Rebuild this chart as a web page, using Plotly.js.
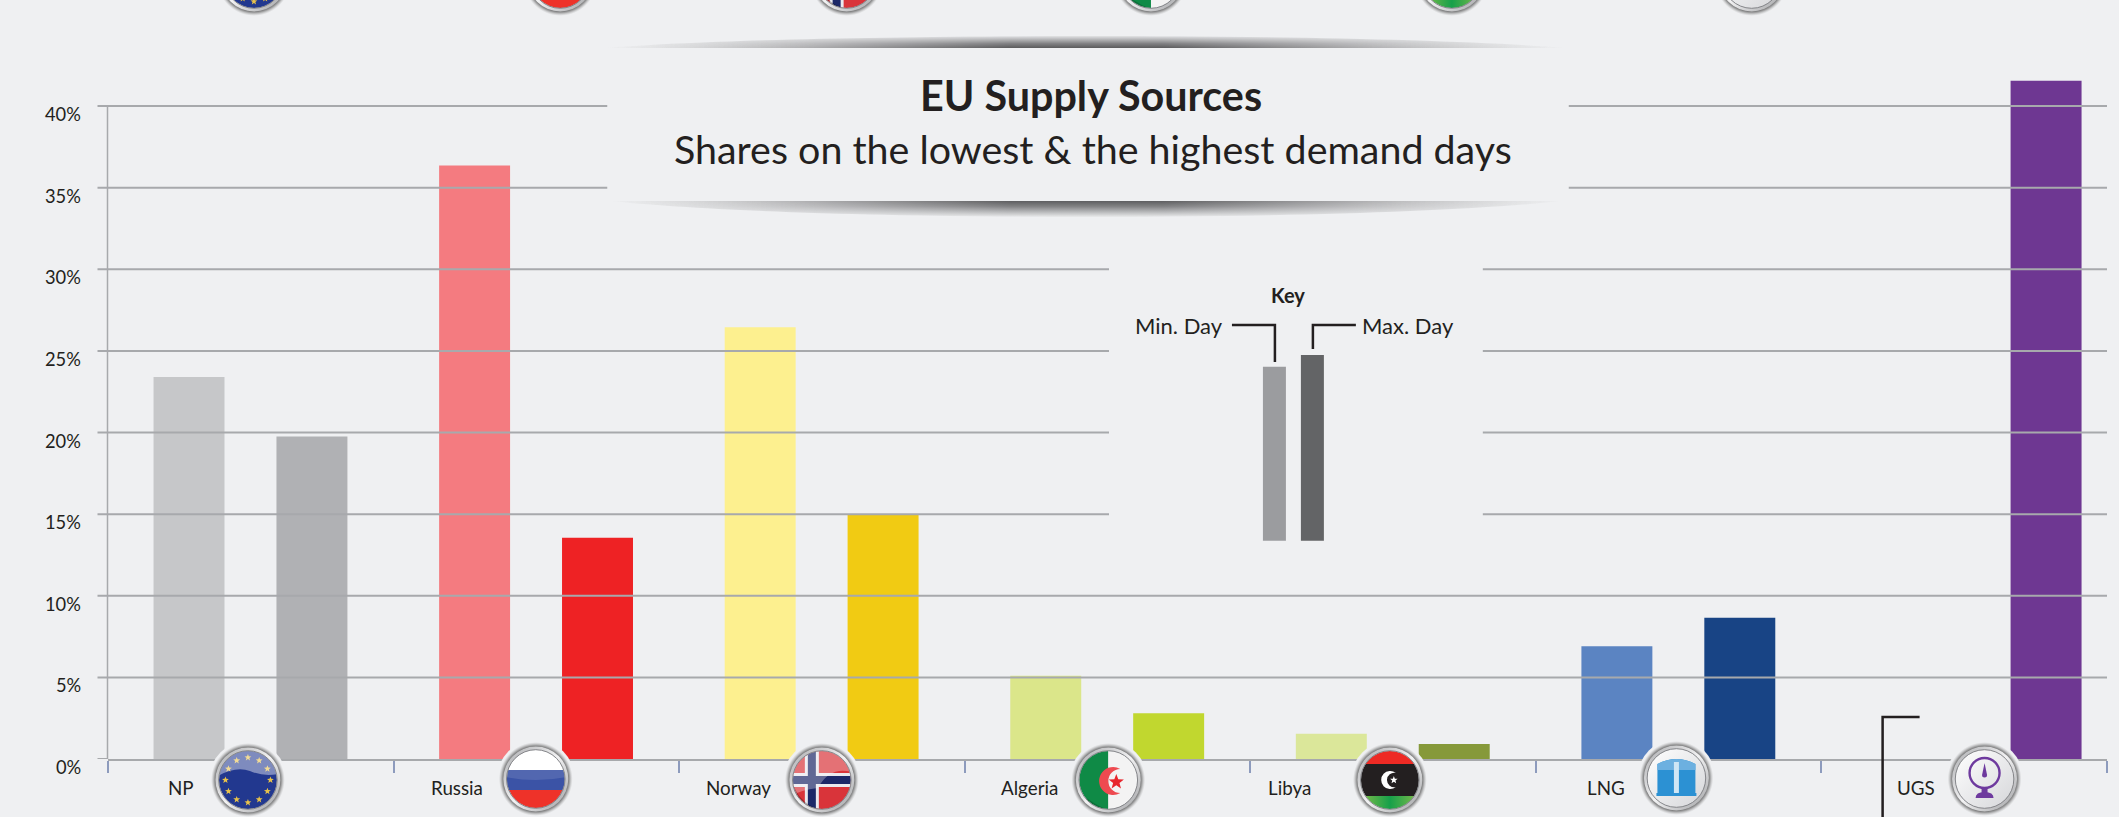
<!DOCTYPE html>
<html><head><meta charset="utf-8">
<script src="https://cdn.plot.ly/plotly-3.0.1.min.js"></script>
<style>html,body{margin:0;padding:0;background:#eff0f2;overflow:hidden}#c{width:2119px;height:817px}</style>
</head><body><div id="c"></div>
<script>
const categories = ['NP','Russia','Norway','Algeria','Libya','LNG','UGS'];
const minDay = [23.4,36.35,26.45,5.1,1.55,6.9,0];
const maxDay = [19.75,13.55,14.95,2.8,0.92,8.66,41.55];
const minColors = ['#c6c7c9','#f47b80','#fdf08f','#dbe68a','#dbe79a','#5b84c2','#c9b6d6'];
const maxColors = ['#b0b1b4','#ee2224','#f1cb13','#c1d72f','#86993a','#184485','#6e3792'];
const minOffset = [-0.3405,-0.3405,-0.3405,-0.3405,-0.3405,-0.3405,-0.3405];
const maxOffset = [0.0899,0.0899,0.0899,0.0899,0.0899,0.0899,0.1624];
const barWidth = 0.2485;
const yTicks = [0,5,10,15,20,25,30,35,40];
const labelRight = [194,483,771,1058,1311,1625,1935];
const iconX = [247.5,535.5,821.7,1108.3,1390,1676.7,1985];
const iconY = [780,779,780,780,780,778,779];
const topIconX = [253.5,560,846.5,1151,1452,1752];

const W=2119,H=817,L=107.5,R=2107.5,T=70,B=759;
const ymax=(B-T)/16.325;
const PX=x=>(x-L)/(R-L), PY=y=>(B-y)/(B-T);
const INK='#231f20', GRID='#a7a9ac', BG='#eff0f2';
const FONT='Lato, "Open Sans", sans-serif';

function starPts(cx,cy,r){let s=[];for(let i=0;i<10;i++){const a=-Math.PI/2+i*Math.PI/5,q=i%2?r*0.42:r;s.push((cx+q*Math.cos(a)).toFixed(2)+','+(cy+q*Math.sin(a)).toFixed(2));}return s.join(' ');}
const flags={
 NP:()=>{let s='<rect x="-30" y="-30" width="60" height="60" fill="#22388f"/>';for(let i=0;i<12;i++){const a=i*Math.PI/6;s+=`<polygon points="${starPts(22.5*Math.sin(a),-22.5*Math.cos(a),3.6)}" fill="#e8c24a"/>`;}
   s+='<path d="M-30 -4 Q-12 -14 2 -9 Q16 -3 30 -6 L30 -30 L-30 -30Z" fill="#fff" opacity=".42"/>';return s;},
 Russia:()=>'<rect x="-30" y="-30" width="60" height="21" fill="#fff"/><rect x="-30" y="-9" width="60" height="20" fill="#3b53a6"/><rect x="-30" y="11" width="60" height="20" fill="#ee3229"/><path d="M-30 -30H30V-2Q0 4 -30 -2Z" fill="#fff" opacity=".12"/>',
 Norway:()=>'<rect x="-30" y="-30" width="60" height="60" fill="#d9343a"/><rect x="-17" y="-30" width="14" height="60" fill="#e9e9ee"/><rect x="-30" y="-7" width="60" height="14" fill="#e9e9ee"/><rect x="-14" y="-30" width="8" height="60" fill="#1c2868"/><rect x="-30" y="-4" width="60" height="8" fill="#1c2868"/><path d="M-30 -30H30V-8Q8 -14 -4 8Q-22 10 -30 16Z" fill="#fff" opacity=".3"/><path d="M-30 0 Q-24 24 0 30 L-30 30Z" fill="#000" opacity=".25"/>',
 Algeria:()=>`<rect x="-30" y="-30" width="30" height="60" fill="#0f8a46"/><rect x="0" y="-30" width="30" height="60" fill="#f3f3f3"/><path d="M12 -11A14 14 0 1 0 12 13A11 11 0 1 1 12 -11Z" fill="#ee4a50"/><polygon points="${starPts(8,2,8)}" fill="#e8262d"/><path d="M-30 12Q-12 26 0 30L-30 30Z" fill="#000" opacity=".18"/>`,
 Libya:()=>`<rect x="-30" y="-30" width="60" height="14" fill="#ee2a24"/><rect x="-30" y="-16" width="60" height="32" fill="#231f20"/><rect x="-30" y="16" width="60" height="14" fill="url(#g)"/><path d="M6 -7A9 9 0 1 0 6 7A7.2 7.2 0 1 1 6 -7Z" fill="#fff"/><polygon points="${starPts(4,0,4)}" fill="#fff"/>`,
 LNG:()=>'<circle r="30" fill="url(#w)"/><path d="M-19 15V-14Q0 -24 19 -14V15Z" fill="#2c91d3"/><path d="M-19 -14Q0 -24 19 -14V-8H-19Z" fill="#6cb0e0"/><rect x="-2.5" y="-16" width="5" height="31" fill="#cfe6f5"/><rect x="-20" y="15" width="40" height="3" fill="#2c91d3"/>',
 UGS:()=>'<circle r="30" fill="url(#w)"/><circle cy="-6" r="15" fill="none" stroke="#6e3a9e" stroke-width="2.4"/><path d="M0 -16L2.5 -4A2.5 2.5 0 0 1 -2.5 -4Z" fill="#6e3a9e"/><path d="M-3 9H3V14H-3Z" fill="#6e3a9e"/><path d="M-9 19Q-9 13 0 13Q9 13 9 19Z" fill="#6e3a9e"/>'
};
function icon(name){
 const svg=`<svg xmlns="http://www.w3.org/2000/svg" width="84" height="84" viewBox="-42 -42 84 84"><defs>
<radialGradient id="h"><stop offset=".84" stop-color="#333" stop-opacity=".9"/><stop offset=".92" stop-color="#666" stop-opacity=".5"/><stop offset="1" stop-color="#aaa" stop-opacity="0"/></radialGradient>
<linearGradient id="r" x1="0" y1="0" x2="1" y2="1"><stop offset="0" stop-color="#a8a9ac"/><stop offset=".5" stop-color="#f2f2f3"/><stop offset="1" stop-color="#9d9ea1"/></linearGradient>
<linearGradient id="w" x1="0" y1="0" x2="1" y2="1"><stop offset="0" stop-color="#fff"/><stop offset="1" stop-color="#d5d6d9"/></linearGradient>
<linearGradient id="g"><stop offset="0" stop-color="#86bd4a"/><stop offset=".5" stop-color="#16a04a"/><stop offset="1" stop-color="#86bd4a"/></linearGradient>
<clipPath id="k"><circle r="29"/></clipPath></defs>
<circle r="39" fill="${BG}"/><circle r="37" fill="url(#h)"/><circle r="32.5" fill="url(#r)"/>
<g clip-path="url(#k)">${flags[name]()}</g><circle r="29.3" fill="none" stroke="#85868a" stroke-width="1"/></svg>`;
 return 'data:image/svg+xml;charset=utf-8,'+encodeURIComponent(svg);
}
function lens(top){
 const path=top?'M0 13C200 -3 760 -3 960 13Z':'M0 0C200 22 760 22 960 0Z';
 const svg=`<svg xmlns="http://www.w3.org/2000/svg" width="960" height="${top?13:17}" viewBox="0 0 960 ${top?13:17}"><defs>
<linearGradient id="a"><stop offset="0" stop-color="#bbb" stop-opacity="0"/><stop offset=".22" stop-color="#a9a9ab"/><stop offset=".42" stop-color="#5a5a5c"/><stop offset=".58" stop-color="#5a5a5c"/><stop offset=".78" stop-color="#a9a9ab"/><stop offset="1" stop-color="#bbb" stop-opacity="0"/></linearGradient>
<linearGradient id="v" x1="0" y1="${top?1:0}" x2="0" y2="${top?0:1}"><stop offset="0" stop-color="#fff"/><stop offset=".35" stop-color="#bbb"/><stop offset="1" stop-color="#000"/></linearGradient>
<mask id="m" maskUnits="userSpaceOnUse" x="0" y="0" width="960" height="17"><rect width="960" height="${top?13:17}" fill="url(#v)"/></mask></defs>
<path d="${path}" fill="url(#a)" mask="url(#m)"/></svg>`;
 return 'data:image/svg+xml;charset=utf-8,'+encodeURIComponent(svg);
}
function img(src,x,y,w,h){return {source:src,xref:'paper',yref:'paper',x:PX(x),y:PY(y),sizex:w/(R-L),sizey:h/(B-T),xanchor:'left',yanchor:'top',sizing:'stretch',layer:'above'};}
const images=[img(lens(true),606,35,960,13),img(lens(false),606,200.5,960,17)];
categories.forEach((c,i)=>images.push(img(icon(c),iconX[i]-42,iconY[i]-42,84,84)));
topIconX.forEach((x,i)=>images.push(img(icon(categories[i]),x-42,-63,84,84)));

const shapes=[];
const seg=(x0,x1,v)=>shapes.push({type:'line',layer:'above',xref:'paper',yref:'y',x0:PX(x0),x1:PX(x1),y0:v,y1:v,line:{color:GRID,width:2}});
yTicks.forEach(v=>{
  if(v===0){seg(97,107.5,0);return;}
  if(v>=35){seg(97,607,v);seg(1569,2107.5,v);}
  else if(v>=15){seg(97,1109,v);seg(1483,2107.5,v);}
  else seg(97,2107.5,v);
});
const pxLine=(pts,w,c)=>shapes.push({type:'path',layer:'above',xref:'paper',yref:'paper',path:'M'+pts.map(p=>PX(p[0])+','+PY(p[1])).join('L'),line:{color:c,width:w}});
pxLine([[107,106],[107,759]],1.5,GRID);
pxLine([[1232,325],[1275,325],[1275,362]],2.5,INK);
pxLine([[1356,325],[1313,325],[1313,349]],2.5,INK);
pxLine([[1920,717],[1883,717],[1883,817]],2.5,INK);
const pxRect=(x0,y0,x1,y1,c)=>shapes.push({type:'rect',layer:'above',xref:'paper',yref:'paper',x0:PX(x0),x1:PX(x1),y0:PY(y0),y1:PY(y1),fillcolor:c,line:{width:0}});
pxRect(1263,366.7,1286,540.7,'#9b9c9f');
pxRect(1301,355,1324,540.7,'#636466');

const annotations=[];
const note=(text,x,y,size,anchor)=>annotations.push({text,xref:'paper',yref:'paper',x:PX(x),y:PY(y),xanchor:anchor,yanchor:'middle',showarrow:false,align:anchor,borderpad:0,borderwidth:0,font:{family:FONT,size,color:INK}});
yTicks.forEach(v=>annotations.push({text:v+'%',xref:'paper',yref:'y',x:PX(80),y:v,yshift:-8,xanchor:'right',yanchor:'middle',showarrow:false,borderpad:0,borderwidth:0,font:{family:FONT,size:18.3,color:INK}}));
categories.forEach((c,i)=>note(c,labelRight[i],787,18.8,'right'));
note('Shares on the lowest &amp; the highest demand days',1093,148,39.4,'center');
note('<b>Key</b>',1288,295,20,'center');
note('Min. Day',1223,325,22,'right');
note('Max. Day',1362,325,22,'left');

Plotly.newPlot('c',[
 {type:'bar',name:'Min. Day',x:categories,y:minDay,width:barWidth,offset:minOffset,marker:{color:minColors,line:{width:0}},showlegend:false},
 {type:'bar',name:'Max. Day',x:categories,y:maxDay,width:barWidth,offset:maxOffset,marker:{color:maxColors,line:{width:0}},showlegend:false}
],{
 width:W,height:H,paper_bgcolor:BG,plot_bgcolor:BG,showlegend:false,
 margin:{l:L,r:W-R,t:T,b:H-B,pad:0},
 barmode:'group',
 title:{text:'<b>EU Supply Sources</b>',x:1091/W,xref:'container',xanchor:'center',y:1-97/H,yref:'container',yanchor:'middle',font:{family:FONT,size:41.3,color:INK}},
 xaxis:{type:'category',categoryorder:'array',categoryarray:categories,range:[-0.5,6.5],tickson:'boundaries',ticks:'outside',ticklen:12,tickwidth:2,tickcolor:'#8d9bbd',showticklabels:false,showgrid:false,zeroline:false,showline:true,linecolor:GRID,linewidth:2},
 yaxis:{range:[0,ymax],tickvals:yTicks,showticklabels:false,ticks:'',showgrid:false,zeroline:false,showline:false},
 images,shapes,annotations
},{displayModeBar:false,staticPlot:true});
</script></body></html>
